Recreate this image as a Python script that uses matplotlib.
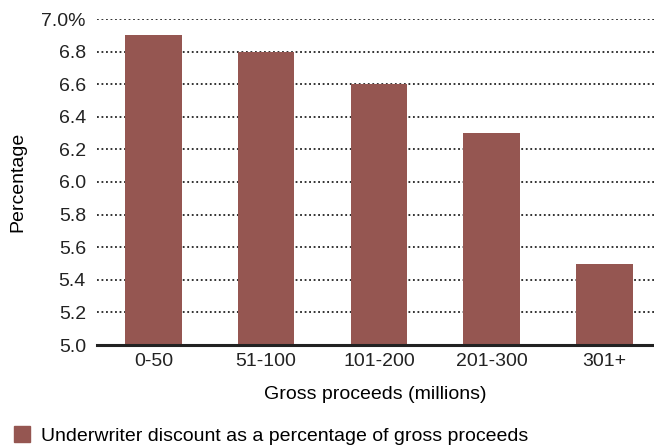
import matplotlib
matplotlib.use("Agg")
import matplotlib.pyplot as plt
from matplotlib.patches import Patch

categories = ["0-50", "51-100", "101-200", "201-300", "301+"]
values = [6.9, 6.8, 6.6, 6.3, 5.5]
yticks = [5.0, 5.2, 5.4, 5.6, 5.8, 6.0, 6.2, 6.4, 6.6, 6.8, 7.0]
ytick_labels = ["5.0", "5.2", "5.4", "5.6", "5.8", "6.0", "6.2", "6.4", "6.6", "6.8", "7.0%"]
series_name = "Underwriter discount as a percentage of gross proceeds"

plt.rcParams["font.family"] = ["Liberation Sans", "DejaVu Sans"]
bar_color = "#955651"
fs = 14

W, H = 654, 445
fig = plt.figure(figsize=(W / 100, H / 100), dpi=100)
ax = fig.add_axes([97 / W, 1 - 345 / H, (654 - 97) / W, (345 - 19) / H])

x = range(len(categories))
ax.bar(x, values, width=0.5, color=bar_color, zorder=3)

ax.set_ylim(5.0, 7.0)
ax.set_xlim(-0.5, 4.44)
ax.set_yticks(yticks)
ax.set_yticklabels(ytick_labels)
ax.set_xticks(list(x))
ax.set_xticklabels(categories)
ax.tick_params(axis="both", length=0, labelsize=fs, colors="#222222")
ax.tick_params(axis="y", pad=8)
ax.tick_params(axis="x", pad=6)

ax.grid(axis="y", linestyle=(0, (1, 1.5)), color="#222222", linewidth=1.3, zorder=1)
for s in ["left", "right", "top"]:
    ax.spines[s].set_visible(False)
ax.spines["bottom"].set_linewidth(2.2)
ax.spines["bottom"].set_color("#222222")
ax.spines["bottom"].set_zorder(4)

ax.set_xlabel("Gross proceeds (millions)", fontsize=fs, labelpad=11)
fig.text(18 / W, 1 - 182 / H, "Percentage", rotation=90, fontsize=fs,
         ha="center", va="center")

fig.legend(handles=[Patch(color=bar_color, label=series_name)],
           loc="lower left", bbox_to_anchor=(0.0, -0.03), frameon=False,
           fontsize=fs, handlelength=0.85, handleheight=0.85, handletextpad=0.55,
           borderaxespad=0.3)

fig.savefig("out.png", dpi=100)
